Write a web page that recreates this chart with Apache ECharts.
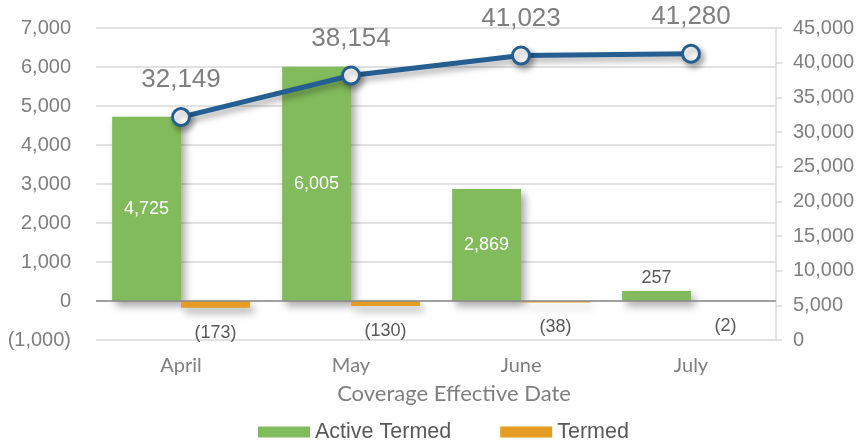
<!DOCTYPE html>
<html><head><meta charset="utf-8">
<script src="https://cdn.jsdelivr.net/npm/echarts@6/dist/echarts.min.js"></script>
<style>html,body{margin:0;padding:0;background:#fff}#c{width:861px;height:441px}</style>
</head><body><div id="c"></div>
<script>
var categories = ['April', 'May', 'June', 'July'];
var activeTermed = [4725, 6005, 2869, 257];
var termed = [-173, -130, -38, -2];
var totals = [32149, 38154, 41023, 41280];
var leftTicks = {min: -1000, max: 7000, interval: 1000};
var rightTicks = {min: 0, max: 45000, interval: 5000};

var NUM = '"Liberation Sans", Arial, sans-serif';
var CAL = 'Lato, "Open Sans", sans-serif';
var GRAY = '#7f7f7f';
function fmt(v) {
  var s = Math.abs(v).toLocaleString('en-US');
  return v < 0 ? '(' + s + ')' : s;
}
var chart = echarts.init(document.getElementById('c'));
chart.setOption({
  animation: false,
  grid: {left: 96, right: 85, top: 28, bottom: 101, containLabel: false},
  legend: {
    top: 421, left: 258, itemWidth: 52, itemHeight: 11, itemGap: 49, padding: 0,
    icon: 'rect',
    textStyle: {fontFamily: NUM, fontSize: 21.5, color: '#595959'},
    data: ['Active Termed', 'Termed']
  },
  xAxis: {
    type: 'category', data: categories,
    axisLine: {show: false}, axisTick: {show: false},
    axisLabel: {fontFamily: CAL, fontSize: 20, color: GRAY, margin: 16},
    name: 'Coverage Effective Date', nameLocation: 'middle', nameGap: 43,
    nameTextStyle: {fontFamily: CAL, fontSize: 22, color: GRAY, padding: [0, 0, 0, 36]}
  },
  yAxis: [{
    type: 'value', min: leftTicks.min, max: leftTicks.max, interval: leftTicks.interval,
    axisLine: {show: false}, axisTick: {show: false},
    axisLabel: {fontFamily: NUM, fontSize: 20, color: GRAY, margin: 25, formatter: fmt},
    splitLine: {lineStyle: {color: '#d9d9d9', width: 1.5}}
  }, {
    type: 'value', position: 'right', min: rightTicks.min, max: rightTicks.max, interval: rightTicks.interval,
    axisLine: {show: true, lineStyle: {color: '#d9d9d9', width: 1.5}},
    axisTick: {show: true, length: 6, lineStyle: {color: '#d9d9d9', width: 1.5}},
    axisLabel: {fontFamily: NUM, fontSize: 20, color: GRAY, margin: 17, formatter: fmt},
    splitLine: {show: false}
  }],
  series: [{
    name: 'Active Termed', type: 'bar', yAxisIndex: 0,
    data: activeTermed.map(function (v) {
      return v < 1000 ? {value: v, label: {position: 'top', distance: 4, color: '#595959'}} : v;
    }),
    barGap: '0%', barCategoryGap: '19%',
    itemStyle: {color: '#82bb5c', shadowBlur: 8, shadowOffsetX: 4, shadowOffsetY: 5, shadowColor: 'rgba(0,0,0,0.35)'},
    label: {
      show: true, position: 'inside', fontFamily: NUM, fontSize: 18, color: '#ffffff',
      formatter: function (p) { return fmt(p.value); }
    },
    markLine: {
      silent: true, symbol: 'none', label: {show: false},
      lineStyle: {color: '#8c8c8c', width: 1.5, type: 'solid'},
      data: [{yAxis: 0}]
    },
    z: 2
  }, {
    name: 'Termed', type: 'bar', data: termed, yAxisIndex: 0,
    itemStyle: {color: '#e69b22', shadowBlur: 8, shadowOffsetX: 4, shadowOffsetY: 5, shadowColor: 'rgba(0,0,0,0.35)'},
    label: {
      show: true, position: 'bottom', distance: 16, fontFamily: NUM, fontSize: 18, color: '#595959',
      formatter: function (p) { return fmt(p.value); }
    },
    z: 2
  }, {
    name: 'Total', type: 'line', data: totals, yAxisIndex: 1,
    symbol: 'circle', symbolSize: 17,
    lineStyle: {color: '#255e91', width: 5, shadowBlur: 6, shadowOffsetX: 3, shadowOffsetY: 4, shadowColor: 'rgba(0,0,0,0.35)'},
    itemStyle: {color: '#ffffff', borderColor: '#255e91', borderWidth: 3, shadowBlur: 6, shadowOffsetX: 3, shadowOffsetY: 4, shadowColor: 'rgba(0,0,0,0.35)'},
    label: {show: true, position: 'top', distance: 14, fontFamily: NUM, fontSize: 26, color: GRAY,
      formatter: function (p) { return fmt(p.value); }},
    z: 5
  }]
});
</script></body></html>
